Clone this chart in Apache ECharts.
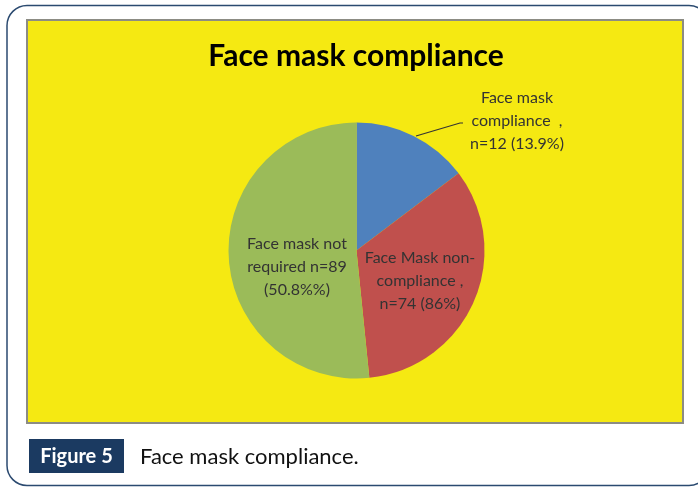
<!DOCTYPE html>
<html>
<head>
<meta charset="utf-8">
<script src="https://cdn.jsdelivr.net/npm/echarts@6/dist/echarts.min.js"></script>
<style>
html,body{margin:0;padding:0;background:#fff;}
#c{width:698px;height:487px;}
</style>
</head>
<body>
<div id="c"></div>
<script>
// Data (slice shares as drawn)
const categories = ["Face mask compliance", "Face Mask non-compliance", "Face mask not required"];
const values = [14.7, 33.7, 51.6];
const labelTexts = [
  "Face mask\ncompliance  ,\nn=12 (13.9%)",
  "Face Mask non-\ncompliance ,\nn=74 (86%)",
  "Face mask not\nrequired n=89\n(50.8%%)"
];
const colors = ["#4f81bd", "#c0504d", "#9bbb59"];
const chartTitle = "Face mask compliance";
const figureTag = "Figure 5";
const figureCaption = "Face mask compliance.";

const FONT = "Lato, 'Open Sans', sans-serif";
const labelPos = [
  {x: 517, y: 121},
  {x: 420, y: 281},
  {x: 297, y: 267}
];

const chart = echarts.init(document.getElementById('c'), null, {renderer: 'canvas'});
chart.setOption({
  backgroundColor: '#ffffff',
  animation: false,
  graphic: [
    {type: 'rect', z: -10, shape: {x: 7, y: 5.5, width: 702, height: 480, r: 20},
     style: {fill: '#ffffff', stroke: '#2b4a70', lineWidth: 1.5}},
    {type: 'rect', z: -9, shape: {x: 27, y: 20, width: 656, height: 403},
     style: {fill: '#f5e912', stroke: '#8c8c84', lineWidth: 2}},
    {type: 'text', z: 5, x: 356, y: 56,
     style: {text: chartTitle, font: 'bold 30px ' + FONT, fill: '#000', align: 'center', verticalAlign: 'middle'}},
    {type: 'rect', z: 5, shape: {x: 29, y: 439, width: 95, height: 34},
     style: {fill: '#1b3a61'}},
    {type: 'text', z: 6, x: 76.5, y: 457,
     style: {text: figureTag, font: 'bold 20px ' + FONT, fill: '#ffffff', align: 'center', verticalAlign: 'middle'}},
    {type: 'text', z: 6, x: 140, y: 457,
     style: {text: figureCaption, font: '22px ' + FONT, fill: '#111', align: 'left', verticalAlign: 'middle'}}
  ],
  series: [{
    type: 'pie',
    center: [356.5, 250.5],
    radius: 128,
    startAngle: 90,
    clockwise: true,
    avoidLabelOverlap: false,
    itemStyle: {borderWidth: 0},
    label: {
      fontFamily: FONT, fontSize: 16, color: '#333', lineHeight: 23, align: 'center'
    },
    labelLayout: function (p) {
      const pos = labelPos[p.dataIndex];
      const r = {x: pos.x, y: pos.y, align: 'center', verticalAlign: 'middle'};
      if (p.dataIndex === 0) {
        r.labelLinePoints = [[416, 136], [460, 123], [463, 123]];
      }
      return r;
    },
    data: categories.map((c, i) => ({
      name: c,
      value: values[i],
      itemStyle: {color: colors[i]},
      label: {formatter: labelTexts[i], position: i === 0 ? 'outside' : 'inside'},
      labelLine: {show: i === 0, lineStyle: {color: '#333', width: 1.2}}
    }))
  }]
});
</script>
</body>
</html>
